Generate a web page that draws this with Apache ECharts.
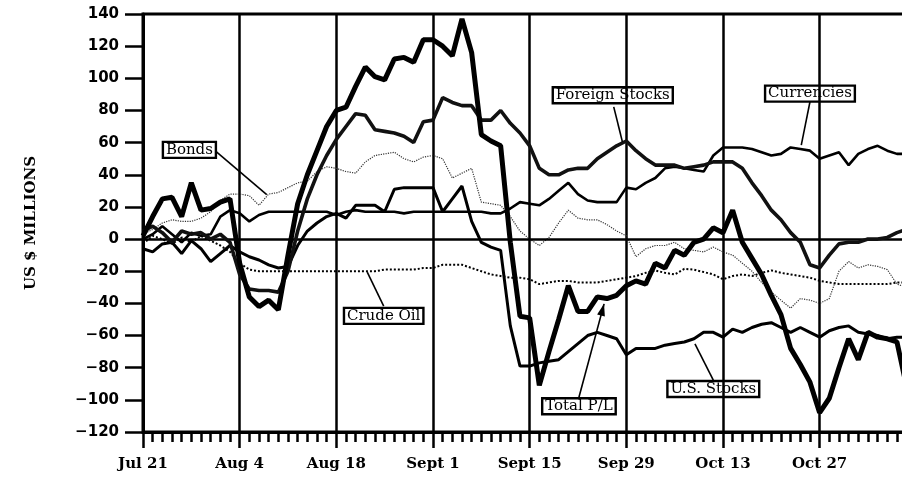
<!DOCTYPE html>
<html><head><meta charset="utf-8">
<script src="https://cdn.jsdelivr.net/npm/echarts@6/dist/echarts.min.js"></script>
<style>html,body{margin:0;padding:0;background:#fff}#c{width:902px;height:481px}</style>
</head><body><div id="c"></div>
<script>
// Business days since Jul 21 (0 .. 79)
const tickLabels = ['Jul 21','Aug 4','Aug 18','Sept 1','Sept 15','Sep 29','Oct 13','Oct 27'];
const dayIndex = [0,1,2,3,4,5,6,7,8,9,10,11,12,13,14,15,16,17,18,19,20,21,22,23,24,25,26,27,28,29,30,31,32,33,34,35,36,37,38,39,40,41,42,43,44,45,46,47,48,49,50,51,52,53,54,55,56,57,58,59,60,61,62,63,64,65,66,67,68,69,70,71,72,73,74,75,76,77,78,79];

const totalPL = [2,14,25,26,14,35,18,19,23,25,-15,-36,-42,-38,-44,-10,22,40,55,70,80,82,95,107,101,99,112,113,110,124,124,120,114,137,116,65,61,58,-2,-48,-49,-91,-70,-50,-29,-45,-45,-36,-37,-35,-29,-26,-28,-15,-18,-7,-10,-2,0,7,4,18,-2,-12,-22,-35,-47,-68,-78,-89,-108,-99,-80,-62,-75,-58,-61,-62,-64,-92];
const foreignStocks = [5,8,4,-2,5,3,4,0,3,-2,-22,-31,-32,-32,-33,-20,5,25,40,52,62,70,78,77,68,67,66,64,60,73,74,88,85,83,83,74,74,80,72,66,58,44,40,40,43,44,44,50,54,58,61,55,50,46,46,46,44,45,46,48,48,48,44,35,27,18,12,4,-2,-16,-18,-10,-3,-2,-2,0,0,1,4,6];
const usStocks = [-6,-8,-3,-2,-9,-1,-6,-14,-9,-4,-8,-11,-13,-16,-18,-17,-4,5,10,14,16,13,21,21,21,17,31,32,32,32,32,17,25,33,11,-2,-5,-7,-54,-79,-79,-77,-76,-75,-70,-65,-60,-58,-60,-62,-72,-68,-68,-68,-66,-65,-64,-62,-58,-58,-61,-56,-58,-55,-53,-52,-55,-58,-55,-58,-61,-57,-55,-54,-58,-59,-60,-62,-61,-61];
const currencies = [0,3,8,3,-2,4,2,3,14,18,16,11,15,17,17,17,17,17,17,17,15,17,18,17,17,17,17,16,17,17,17,17,17,17,17,17,16,16,19,23,22,21,25,30,35,28,24,23,23,23,32,31,35,38,44,45,44,43,42,52,57,57,57,56,54,52,53,57,56,55,50,52,54,46,53,56,58,55,53,53];
const bonds = [3,6,10,12,11,11,13,17,24,28,28,27,21,28,29,32,35,36,42,45,44,42,41,48,52,53,54,50,48,51,52,50,38,41,44,23,22,21,14,5,0,-4,1,10,18,13,12,12,9,5,2,-11,-6,-4,-4,-2,-6,-7,-8,-5,-8,-10,-15,-20,-27,-33,-38,-43,-37,-38,-40,-37,-20,-14,-18,-16,-17,-19,-28,-30];
const crudeOil = [-3,2,0,-3,1,-2,2,-1,-4,-8,-15,-19,-20,-20,-20,-20,-20,-20,-20,-20,-20,-20,-20,-20,-20,-19,-19,-19,-19,-18,-18,-16,-16,-16,-18,-20,-22,-23,-24,-24,-25,-28,-27,-26,-26,-27,-27,-27,-26,-25,-24,-23,-21,-19.5,-21,-22,-18.5,-19,-20.5,-22,-25,-23,-22,-23,-21,-19.5,-21,-22,-23,-24,-26,-27,-28,-28,-28,-28,-28,-28,-27,-27];

// annotations: label, box centre [day, value], leader start, leader tip
const annotations = [
  {text:'Bonds', box:[4.8,55.5], from:[7.6,54.2], to:[12.8,27.6], arrow:false},
  {text:'Crude Oil', box:[24.9,-47.8], from:[24.9,-41.7], to:[23.2,-20.6], arrow:false},
  {text:'Foreign Stocks', box:[48.6,89.5], from:[48.7,82.2], to:[49.6,60.4], arrow:false},
  {text:'Currencies', box:[69,90.5], from:[69,85.4], to:[68.1,58.4], arrow:false},
  {text:'Total P/L', box:[45.1,-104], from:[45.1,-98.4], to:[47.7,-40.3], arrow:true},
  {text:'U.S. Stocks', box:[59,-93.3], from:[59,-87.7], to:[57.1,-65.2], arrow:false}
];

const pair = arr => dayIndex.map((d,i)=>[d, arr[i]]);
const chart = echarts.init(document.getElementById('c'));
function ser(name, arr, width, type, color, z){
  return {name, type:'line', data:pair(arr), symbol:'none', z, clip:true,
    lineStyle:{width, type, color}, animation:false};
}
const series = [
  ser('Bonds', bonds, 1.2, 'dotted', '#333', 2),
  ser('Crude Oil', crudeOil, 2, 'dotted', '#000', 3),
  ser('Currencies', currencies, 2.6, 'solid', '#000', 4),
  ser('U.S. Stocks', usStocks, 3, 'solid', '#000', 5),
  ser('Foreign Stocks', foreignStocks, 3.6, 'solid', '#111', 6),
  ser('Total P/L', totalPL, 5, 'solid', '#000', 7)
];
series[0].markLine = {silent:true, symbol:'none', label:{show:false},
  lineStyle:{color:'#000', width:2.5, type:'solid'}, data:[{yAxis:0}], animation:false};

chart.setOption({
  animation:false,
  backgroundColor:'#fff',
  grid:{left:143, top:14, right:-14.3, bottom:49, outerBoundsMode:'none', containLabel:false,
    show:true, borderColor:'#000', borderWidth:3, backgroundColor:'transparent'},
  xAxis:{type:'value', min:0, max:80, interval:10,
    axisLine:{show:true, onZero:false, lineStyle:{color:'#000', width:3}},
    axisTick:{show:true, inside:false, length:16, lineStyle:{color:'#000', width:2.5}},
    minorTick:{show:true, splitNumber:10, length:10, lineStyle:{color:'#000', width:2.5}},
    splitLine:{show:true, lineStyle:{color:'#000', width:2.5}},
    axisLabel:{margin:25, color:'#000', fontFamily:'DejaVu Serif', fontWeight:'bold', fontSize:15,
      formatter:v => (v % 10 === 0 && tickLabels[v/10]) ? tickLabels[v/10] : ''}
  },
  yAxis:{type:'value', min:-120, max:140, interval:20,
    name:'US $ MILLIONS', nameLocation:'middle', nameRotate:90, nameGap:104,
    nameTextStyle:{color:'#000', fontFamily:'DejaVu Serif', fontWeight:'bold', fontSize:15},
    axisLine:{show:true, onZero:false, lineStyle:{color:'#000', width:3}},
    axisTick:{show:true, inside:false, length:18, lineStyle:{color:'#000', width:2.5}},
    splitLine:{show:false},
    axisLabel:{margin:24, color:'#000', fontFamily:'DejaVu Sans', fontWeight:'bold', fontSize:15,
      formatter:v => String(v).replace('-', '\u2212')}
  },
  series
});

const g = [];
annotations.forEach(a => {
  const c = chart.convertToPixel({gridIndex:0}, a.box);
  const p1 = chart.convertToPixel({gridIndex:0}, a.from);
  const p2 = chart.convertToPixel({gridIndex:0}, a.to);
  g.push({type:'line', z:20, shape:{x1:p1[0], y1:p1[1], x2:p2[0], y2:p2[1]}, style:{stroke:'#000', lineWidth:1.6}});
  if (a.arrow){
    const dx = p2[0]-p1[0], dy = p2[1]-p1[1], L = Math.hypot(dx,dy), ux = dx/L, uy = dy/L;
    const bx = p2[0]-ux*12, by = p2[1]-uy*12;
    g.push({type:'polygon', z:21, shape:{points:[[p2[0],p2[1]],[bx-uy*4,by+ux*4],[bx+uy*4,by-ux*4]]}, style:{fill:'#000'}});
  }
  g.push({type:'text', z:22, x:c[0], y:c[1], style:{text:a.text, align:'center', verticalAlign:'middle',
    font:'15px "DejaVu Serif"', fill:'#000', borderColor:'#000', borderWidth:1.2, padding:[1,3,0,3], backgroundColor:'rgba(255,255,255,0)'}});
});
chart.setOption({graphic:g});
</script></body></html>
